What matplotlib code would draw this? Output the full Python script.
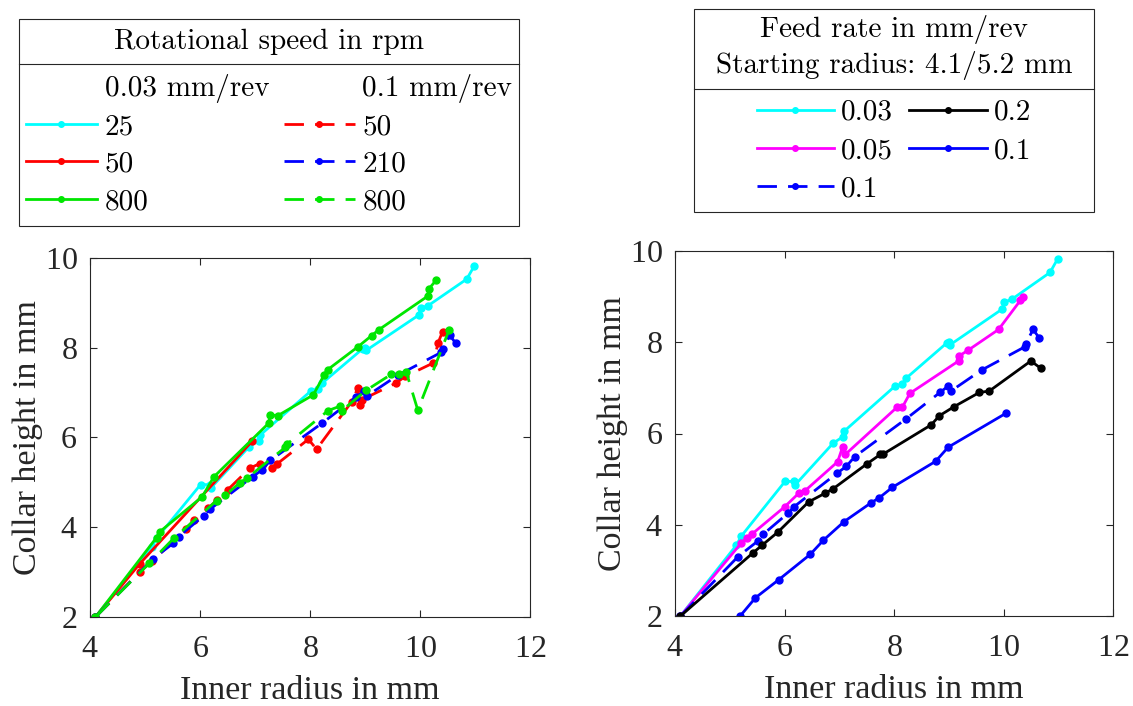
import matplotlib
matplotlib.use("Agg")
import matplotlib.pyplot as plt
from matplotlib.lines import Line2D
from matplotlib.patches import Rectangle

plt.rcParams["font.family"] = "serif"
plt.rcParams["font.serif"] = ["cmr10"]
plt.rcParams["mathtext.fontset"] = "cm"
plt.rcParams["axes.formatter.use_mathtext"] = True

# ---- data ----
# feed 0.03 mm/rev, 25 rpm (same curve in both panels)
x_f003 = [4.10, 5.12, 5.21, 6.01, 6.18, 6.20, 6.89, 7.07, 7.09, 8.02, 8.15, 8.22,
          8.96, 9.00, 9.02, 9.98, 10.01, 10.15, 10.85, 10.99]
y_f003 = [2.00, 3.55, 3.75, 4.95, 4.95, 4.88, 5.79, 5.93, 6.05, 7.04, 7.08, 7.21,
          7.98, 8.00, 7.94, 8.73, 8.88, 8.94, 9.53, 9.83]

# 0.03 mm/rev, 50 rpm
x_n50 = [4.10, 4.90, 6.95]
y_n50 = [2.00, 3.18, 5.92]

# 0.03 mm/rev, 800 rpm
x_n800 = [4.10, 5.21, 5.27, 6.04, 6.25, 7.25, 7.27, 7.42, 8.06, 8.26, 8.32,
          8.87, 9.12, 9.25, 10.14, 10.16, 10.29]
y_n800 = [2.00, 3.77, 3.90, 4.68, 5.12, 6.32, 6.50, 6.49, 6.95, 7.40, 7.51,
          8.02, 8.27, 8.40, 9.15, 9.31, 9.50]

# 0.1 mm/rev, 50 rpm
x_d50 = [4.10, 4.90, 5.12, 5.75, 5.89, 6.15, 6.30, 6.50, 6.91, 7.09, 7.31,
         7.40, 7.97, 8.12, 8.76, 8.87, 8.90, 8.94, 9.56, 9.73, 10.24, 10.33, 10.41]
y_d50 = [2.00, 3.00, 3.24, 3.95, 4.17, 4.42, 4.60, 4.83, 5.32, 5.42, 5.31,
         5.41, 5.96, 5.74, 6.80, 7.10, 6.73, 6.84, 7.21, 7.36, 7.66, 8.11, 8.36]

# 0.1 mm/rev, 210 rpm, starting radius 4.1 mm (same curve in both panels)
x_d210 = [4.10, 5.15, 5.51, 5.61, 6.07, 6.18, 6.96, 7.13, 7.28, 8.22, 8.84,
          8.99, 9.04, 9.60, 10.39, 10.41, 10.54, 10.65]
y_d210 = [2.00, 3.30, 3.64, 3.79, 4.26, 4.40, 5.13, 5.28, 5.49, 6.32, 6.90,
          7.04, 6.93, 7.39, 7.90, 7.97, 8.28, 8.10]

# 0.1 mm/rev, 800 rpm
x_d800 = [4.10, 5.08, 5.52, 6.30, 6.46, 6.72, 6.86, 7.55, 7.58, 8.33, 8.55,
          8.58, 9.02, 9.48, 9.62, 9.75, 9.96, 10.53]
y_d800 = [2.00, 3.20, 3.75, 4.59, 4.71, 4.99, 5.10, 5.78, 5.85, 6.60, 6.70,
          6.60, 7.05, 7.41, 7.41, 7.46, 6.61, 8.40]

# feed 0.05 mm/rev
x_f005 = [4.10, 5.21, 5.31, 5.40, 6.00, 6.26, 6.38, 6.97, 7.06, 7.11, 8.05,
          8.15, 8.29, 9.18, 9.19, 9.36, 9.91, 10.31, 10.35]
y_f005 = [2.00, 3.60, 3.70, 3.79, 4.39, 4.69, 4.75, 5.38, 5.70, 5.54, 6.57,
          6.57, 6.88, 7.59, 7.70, 7.83, 8.28, 8.92, 8.99]

# feed 0.2 mm/rev
x_f02 = [4.10, 5.43, 5.59, 5.88, 6.44, 6.74, 6.89, 7.50, 7.75, 7.79, 8.68,
         8.83, 9.10, 9.56, 9.74, 10.50, 10.68]
y_f02 = [2.00, 3.39, 3.55, 3.84, 4.50, 4.69, 4.79, 5.33, 5.54, 5.54, 6.19,
         6.39, 6.59, 6.90, 6.93, 7.59, 7.43]

# feed 0.1 mm/rev, starting radius 5.2 mm
x_f01 = [5.19, 5.47, 5.90, 6.47, 6.71, 7.09, 7.58, 7.73, 7.97, 8.76, 8.99, 10.04]
y_f01 = [2.00, 2.40, 2.80, 3.35, 3.66, 4.07, 4.48, 4.59, 4.82, 5.39, 5.70, 6.44]

xticks = [4, 6, 8, 10, 12]
yticks = [2, 4, 6, 8, 10]

CYAN = "#00ffff"
RED = "#ff0000"
GREEN = "#00e600"
BLUE = "#0000ff"
MAGENTA = "#ff00ff"
BLACK = "#000000"

W, H = 1133, 706
fig = plt.figure(figsize=(W / 100, H / 100), dpi=100)


def fx(px):
    return px / W


def fy(py):
    return 1 - py / H


lw = 2.0
ms = 5
dash = (7, 4)
FS = 21          # legend text (LaTeX look)
TFONT = "Liberation Serif"   # axes text (Times look)

axL = fig.add_axes([fx(90), fy(617), fx(530) - fx(90), fy(258) - fy(617)])
axR = fig.add_axes([fx(675), fy(616), fx(1113) - fx(675), fy(251) - fy(616)])

l1, = axL.plot(x_f003, y_f003, "-o", color=CYAN, lw=lw, ms=ms)
l2, = axL.plot(x_n50, y_n50, "-o", color=RED, lw=lw, ms=ms)
l3, = axL.plot(x_n800, y_n800, "-o", color=GREEN, lw=lw, ms=ms)
l4, = axL.plot(x_d50, y_d50, "--o", color=RED, lw=lw, ms=ms, dashes=dash)
l5, = axL.plot(x_d210, y_d210, "--o", color=BLUE, lw=lw, ms=ms, dashes=dash)
l6, = axL.plot(x_d800, y_d800, "--o", color=GREEN, lw=lw, ms=ms, dashes=dash)

r1, = axR.plot(x_f003, y_f003, "-o", color=CYAN, lw=lw, ms=ms)
r2, = axR.plot(x_f005, y_f005, "-o", color=MAGENTA, lw=lw, ms=ms)
r3, = axR.plot(x_d210, y_d210, "--o", color=BLUE, lw=lw, ms=ms, dashes=dash)
r4, = axR.plot(x_f02, y_f02, "-o", color=BLACK, lw=lw, ms=ms)
r5, = axR.plot(x_f01, y_f01, "-o", color=BLUE, lw=lw, ms=ms)

for ax in (axL, axR):
    ax.set_xlim(4, 12)
    ax.set_ylim(2, 10)
    ax.set_xticks(xticks)
    ax.set_yticks(yticks)
    ax.tick_params(direction="in", top=True, right=True, length=5,
                   width=0.8, labelsize=23, colors="#262626")
    ax.tick_params(axis="x", pad=13)
    ax.tick_params(axis="y", pad=9)
    ax.tick_params(labelcolor="#262626")
    for lab in ax.get_xticklabels() + ax.get_yticklabels():
        lab.set_fontfamily(TFONT)
    for s in ax.spines.values():
        s.set_color("#262626")
        s.set_linewidth(0.8)
    ax.set_xlabel("Inner radius in mm", fontsize=24.5, family=TFONT,
                  color="#262626", labelpad=8)
    ax.set_ylabel("Collar height in mm", fontsize=24.5, family=TFONT,
                  color="#262626", labelpad=1)

# ---- legend boxes ----
def box(x0, y0, x1, y1, ydiv):
    fig.add_artist(Rectangle((fx(x0), fy(y1)), fx(x1) - fx(x0), fy(y0) - fy(y1),
                             transform=fig.transFigure, fill=False,
                             edgecolor="#262626", lw=0.8))
    fig.add_artist(Line2D([fx(x0), fx(x1)], [fy(ydiv), fy(ydiv)],
                          transform=fig.transFigure, color="#262626", lw=0.8))


box(19, 19, 519, 226, 64)
fig.text(fx(269), fy(42), "Rotational speed in rpm", ha="center", va="center",
         fontsize=FS)

blank = Line2D([], [], linestyle="none", marker="none")
hL = [blank, l1, l2, l3, blank, l4, l5, l6]
tL = ["0.03 mm/rev", "25", "50", "800", "0.1 mm/rev", "50", "210", "800"]
legL = fig.legend(hL, tL, loc="upper center", bbox_to_anchor=(fx(269), fy(59)),
                  ncol=2, frameon=False, fontsize=FS, handlelength=2.45,
                  handletextpad=0.25, columnspacing=0.5, labelspacing=0.38,
                  borderpad=0, markerscale=0.8)

box(694, 9, 1094, 212, 89)
fig.text(fx(894), fy(30), "Feed rate in mm/rev", ha="center", va="center",
         fontsize=FS)
fig.text(fx(894), fy(66), "Starting radius: 4.1/5.2 mm", ha="center",
         va="center", fontsize=FS)
hR = [r1, r2, r3, r4, r5]
tR = ["0.03", "0.05", "0.1", "0.2", "0.1"]
legR = fig.legend(hR, tR, loc="upper center", bbox_to_anchor=(fx(894), fy(85)),
                  ncol=2, frameon=False, fontsize=FS, handlelength=2.65,
                  handletextpad=0.25, columnspacing=0.55, labelspacing=0.4,
                  borderpad=0, markerscale=0.8)

fig.savefig("out.png", dpi=100)
